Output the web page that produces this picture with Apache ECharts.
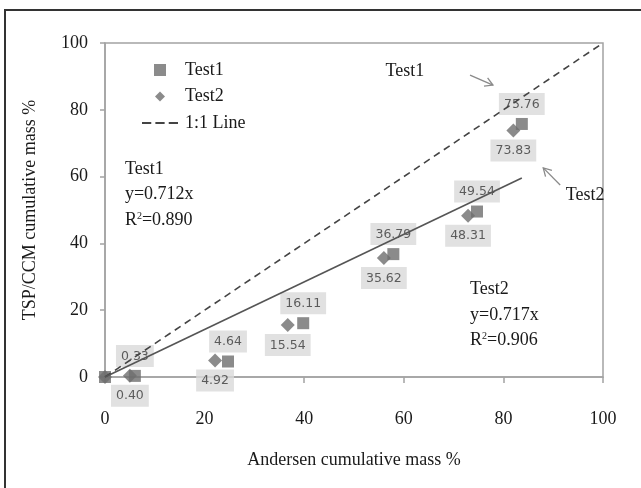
<!DOCTYPE html>
<html>
<head>
<meta charset="utf-8">
<script src="https://cdn.jsdelivr.net/npm/echarts@6/dist/echarts.min.js"></script>
<style>
  html, body { margin: 0; padding: 0; background: #fff; }
  #chart { width: 641px; height: 488px; }
</style>
</head>
<body>
<div id="chart"></div>
<script>
// Andersen cumulative mass % (x) vs TSP/CCM cumulative mass % (y)
var test1X = [0, 6, 24.7, 39.8, 57.9, 74.7, 83.7];
var test1Y = [0, 0.33, 4.64, 16.11, 36.79, 49.54, 75.76];
var test2X = [0, 5, 22.1, 36.7, 56, 72.9, 82];
var test2Y = [0, 0.40, 4.92, 15.54, 35.62, 48.31, 73.83];

var oneToOneLine = [[0, 0], [100, 100]];
var fitLine = [[0, 0], [83.7, 59.6]];   // Test1 fit, y=0.712x

var axisMin = 0, axisMax = 100, axisStep = 20;

var fitNotes = [
    {at: [4, 64.9], lines: ['Test1', 'y=0.712x', 'R{sup|2}=0.890']},
    {at: [73.3, 28.9], lines: ['Test2', 'y=0.717x', 'R{sup|2}=0.906']}
];
var arrowNotes = [
    {text: 'Test1', textAt: [60.2, 91.6], from: [73.3, 90.4], to: [77.9, 87.4]},
    {text: 'Test2', textAt: [96.4, 54.5], from: [91.4, 57.5], to: [88, 62.6]}
];

var serif = 'Liberation Serif, Times New Roman, serif';
var markColor = '#6e6e6e';
var axisGray = '#a3a3a3';

function points(xs, ys) {
    return xs.map(function (x, i) {
        return {value: [x, ys[i]], label: {show: ys[i] !== 0}};
    });
}

var valueLabel = {
    show: true,
    distance: 3,
    formatter: function (p) { return p.value[1].toFixed(2); },
    fontFamily: 'DejaVu Sans, Verdana, sans-serif',
    fontSize: 12.5,
    color: '#3a3a3a',
    backgroundColor: '#d9d9d9',
    padding: [5, 5, 4, 5]
};

var chart = echarts.init(document.getElementById('chart'));

var option = {
    animation: false,
    backgroundColor: '#fff',
    grid: {left: 105, right: 38, top: 43, bottom: 111, show: true, borderColor: axisGray, borderWidth: 1.5},
    legend: {
        orient: 'vertical',
        left: 142,
        top: 61,
        padding: 0,
        itemWidth: 36,
        itemHeight: 12,
        itemGap: 8.5,
        textStyle: {fontFamily: serif, fontSize: 18, color: '#1a1a1a', padding: [0, 0, 0, 2]},
        data: [
            {name: 'Test1', icon: 'path://M0,0H10V10H0Z'},
            {name: 'Test2', icon: 'path://M0,0M12,12M6,1L11,6L6,11L1,6Z'},
            {name: '1:1 Line', icon: 'path://M0,0h9v2h-9zM13,0h9v2h-9zM26,0h9v2h-9z'}
        ]
    },
    xAxis: {
        type: 'value',
        min: axisMin, max: axisMax, interval: axisStep,
        name: 'Andersen cumulative mass %',
        nameLocation: 'middle',
        nameGap: 74,
        nameTextStyle: {fontFamily: serif, fontSize: 18, color: '#1a1a1a'},
        axisLine: {lineStyle: {color: axisGray, width: 1.5}},
        axisTick: {show: true, length: 6, lineStyle: {color: axisGray, width: 1.5}},
        axisLabel: {margin: 33, fontFamily: serif, fontSize: 18, color: '#1a1a1a'},
        splitLine: {show: false}
    },
    yAxis: {
        type: 'value',
        min: axisMin, max: axisMax, interval: axisStep,
        name: 'TSP/CCM cumulative mass %',
        nameLocation: 'middle',
        nameGap: 66,
        nameTextStyle: {fontFamily: serif, fontSize: 18, color: '#1a1a1a'},
        axisLine: {show: true, lineStyle: {color: axisGray, width: 1.5}},
        axisTick: {show: true, length: 5, lineStyle: {color: axisGray, width: 1.5}},
        axisLabel: {margin: 17, fontFamily: serif, fontSize: 18, color: '#1a1a1a'},
        splitLine: {show: false}
    },
    series: [
        {
            name: 'Test1',
            type: 'scatter',
            z: 2,
            symbol: 'rect',
            symbolSize: 12,
            itemStyle: {color: markColor},
            label: Object.assign({position: 'top'}, valueLabel),
            data: points(test1X, test1Y)
        },
        {
            name: 'Test2',
            type: 'scatter',
            z: 2,
            symbol: 'diamond',
            symbolSize: 14,
            itemStyle: {color: markColor},
            label: Object.assign({position: 'bottom'}, valueLabel, {distance: 2}),
            data: points(test2X, test2Y)
        },
        {
            name: '1:1 Line',
            type: 'line',
            z: 3,
            symbol: 'none',
            color: '#444',
            lineStyle: {color: '#444', width: 1.6, type: [7, 5]},
            data: oneToOneLine
        },
        {
            name: 'fit',
            type: 'line',
            z: 3,
            symbol: 'none',
            lineStyle: {color: '#555', width: 1.6},
            data: fitLine
        }
    ]
};

chart.setOption(option);

function px(pt) {
    return chart.convertToPixel({xAxisIndex: 0, yAxisIndex: 0}, pt);
}

var graphics = [
    // outer frame of the figure (only top and left edges fall inside the picture)
    {type: 'rect', shape: {x: 5, y: 10, width: 700, height: 600}, style: {fill: null, stroke: '#333', lineWidth: 2}, z: 10}
];

fitNotes.forEach(function (n) {
    var p = px(n.at);
    n.lines.forEach(function (line, i) {
        graphics.push({
            type: 'text', x: p[0], y: p[1] + i * 25.5, z: 10,
            style: {
                text: line, fontFamily: serif, fontSize: 18, fill: '#1a1a1a',
                align: 'left', verticalAlign: 'top',
                rich: {sup: {fontFamily: serif, fontSize: 10, fill: '#1a1a1a', verticalAlign: 'top', padding: [0, 0, 8, 0]}}
            }
        });
    });
});

arrowNotes.forEach(function (n) {
    var t = px(n.textAt), a = px(n.from), b = px(n.to);
    graphics.push({
        type: 'text', x: t[0], y: t[1], z: 10,
        style: {text: n.text, fontFamily: serif, fontSize: 18, fill: '#1a1a1a', align: 'center', verticalAlign: 'middle'}
    });
    var ang = Math.atan2(b[1] - a[1], b[0] - a[0]);
    var len = 9, spread = Math.PI / 6;
    var h1 = [b[0] - len * Math.cos(ang - spread), b[1] - len * Math.sin(ang - spread)];
    var h2 = [b[0] - len * Math.cos(ang + spread), b[1] - len * Math.sin(ang + spread)];
    graphics.push({type: 'line', z: 10, shape: {x1: a[0], y1: a[1], x2: b[0], y2: b[1]}, style: {stroke: '#8a8a8a', lineWidth: 1.3}});
    graphics.push({type: 'polyline', z: 10, shape: {points: [h1, b, h2]}, style: {stroke: '#8a8a8a', lineWidth: 1.3, fill: null}});
});

chart.setOption({graphic: graphics});
</script>
</body>
</html>
